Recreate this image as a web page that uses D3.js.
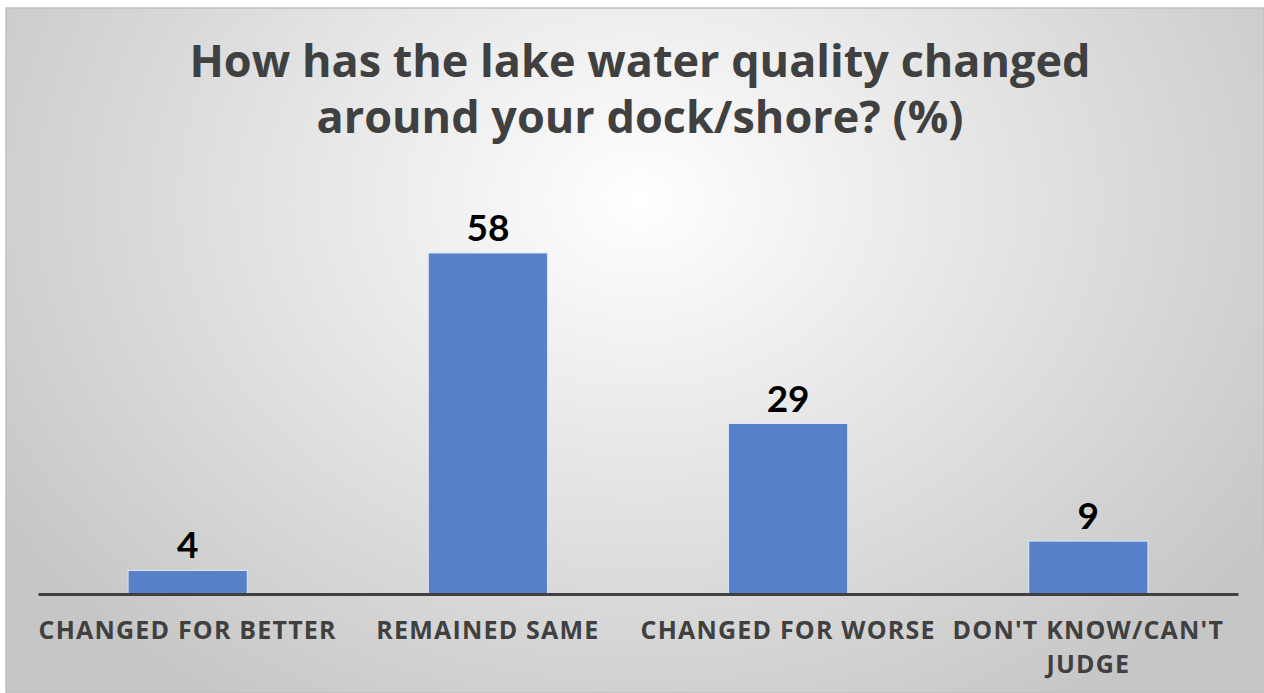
<!DOCTYPE html>
<html><head><meta charset="utf-8">
<script src="https://cdn.jsdelivr.net/npm/d3@7"></script>
<style>body{margin:0;background:#fff;}svg{display:block;}</style>
</head><body>
<svg id="chart" width="1264" height="693"></svg>
<script>
const categories = ["CHANGED FOR BETTER", "REMAINED SAME", "CHANGED FOR WORSE", "DON'T KNOW/CAN'T JUDGE"];
const values = [4, 58, 29, 9];
const titleLines = ["How has the lake water quality changed", "around your dock/shore? (%)"];

const W = 1264, H = 693;
const svg = d3.select("#chart");
const defs = svg.append("defs");
const grad = defs.append("radialGradient").attr("id","bg")
  .attr("gradientUnits","userSpaceOnUse").attr("cx",640).attr("cy",200).attr("r",760)
  .attr("gradientTransform","translate(640,200) scale(1,0.8) translate(-640,-200)");
grad.append("stop").attr("offset","0%").attr("stop-color","#ffffff");
grad.append("stop").attr("offset","100%").attr("stop-color","#c6c6c6");

svg.append("rect").attr("x",6).attr("y",8).attr("width",W-6).attr("height",H-8)
  .attr("fill","url(#bg)").attr("stroke","#c0c0c0").attr("stroke-width",1.5);

const x = d3.scaleBand().domain(categories).range([38,1238]).paddingInner(0.603).paddingOuter(0.3);
const y = d3.scaleLinear().domain([0,58]).range([594,253]);

svg.append("g").attr("font-family","'Open Sans', sans-serif").attr("font-weight","bold")
  .attr("font-size",45).attr("fill","#404040").attr("text-anchor","middle")
  .selectAll("text").data(titleLines).join("text")
  .attr("x",640).attr("y",(d,i)=>77+i*56).text(d=>d);

svg.append("g").selectAll("rect").data(values).join("rect")
  .attr("x",(d,i)=>x(categories[i])).attr("y",d=>y(d))
  .attr("width",x.bandwidth()).attr("height",d=>y(0)-y(d))
  .attr("fill","#5880c8").attr("stroke","#dce6f4").attr("stroke-width",1);

svg.append("g").selectAll("text").data(values).join("text")
  .attr("x",(d,i)=>x(categories[i])+x.bandwidth()/2).attr("y",d=>y(d)-12)
  .attr("text-anchor","middle").attr("font-family","Lato, sans-serif").attr("font-weight","bold")
  .attr("font-size",37).attr("fill","#000").text(d=>d);

const axis = d3.axisBottom(x).tickSize(0).tickPadding(0);
const ag = svg.append("g").attr("transform","translate(0,594)").call(axis);
ag.select(".domain").attr("stroke","#404040").attr("stroke-width",3);
ag.selectAll(".tick text").remove();
ag.selectAll(".tick").each(function(d){
  const t = d3.select(this).append("text").attr("fill","#404040")
    .attr("font-family","'Open Sans', sans-serif").attr("font-weight","bold").attr("font-size",25)
    .attr("letter-spacing",1.2).attr("text-anchor","middle");
  const lines = d === "DON'T KNOW/CAN'T JUDGE" ? ["DON'T KNOW/CAN'T","JUDGE"] : [d];
  lines.forEach((l,i)=>t.append("tspan").attr("x",0).attr("y",45+i*34).text(l));
});
</script>
</body></html>
